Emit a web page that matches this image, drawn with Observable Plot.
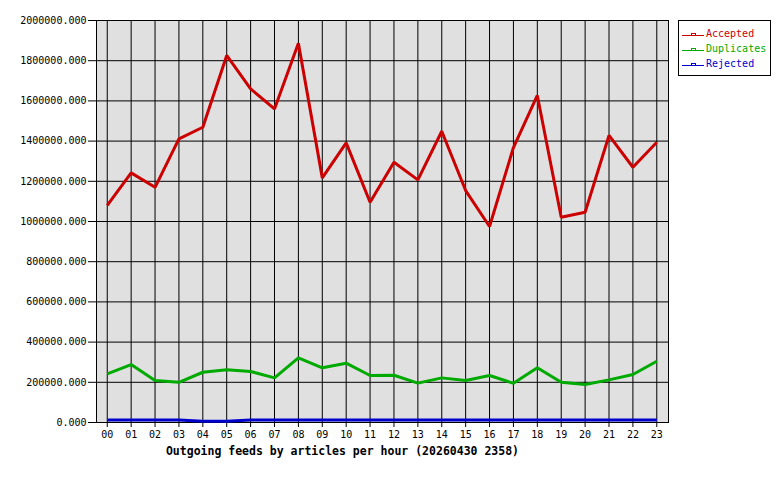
<!DOCTYPE html>
<html>
<head>
<meta charset="utf-8">
<script src="https://cdn.jsdelivr.net/npm/d3@7"></script>
<script src="https://cdn.jsdelivr.net/npm/@observablehq/plot@0.6"></script>
<style>
  html, body { margin: 0; padding: 0; background: #fff; }
  #wrap { position: relative; width: 780px; height: 480px; font-family: "DejaVu Sans Mono", monospace; }
  #chart { position: absolute; left: 0; top: 0; }
  #title { position: absolute; left: 0; width: 685px; top: 444px; text-align: center;
           font: bold 11.5px "DejaVu Sans Mono", monospace; color: #000; white-space: nowrap; }
  #legend { position: absolute; left: 678px; top: 20px; width: 93px; height: 56px; box-sizing: border-box;
            border: 1px solid #000; background: #fff; padding-top: 5px; }
  .item { display: flex; align-items: center; height: 15px; font-size: 10px; }
  .item .sw { margin-left: 3px; margin-right: 2px; width: 22px; height: 8px; position: relative; }
  .item .ln { position: absolute; left: 0; top: 5px; width: 22px; height: 1px; }
  .item .mk { position: absolute; left: 9px; top: 3px; width: 3px; height: 2px; border: 1px solid; border-bottom: none; }
</style>
</head>
<body>
<div id="wrap">
  <div id="chart"></div>
  <div id="title">Outgoing feeds by articles per hour (20260430 2358)</div>
  <div id="legend"></div>
</div>
<script>
const hours = ["00","01","02","03","04","05","06","07","08","09","10","11","12","13","14","15","16","17","18","19","20","21","22","23"];
const seriesNames = ["Accepted", "Duplicates", "Rejected"];
const seriesColors = ["#cc0000", "#00aa00", "#0000cc"];
const accepted = [1080000, 1242000, 1170000, 1411000, 1469000, 1826000, 1660000, 1560000, 1887000, 1217000, 1391000, 1096000, 1295000, 1207000, 1449000, 1154000, 975000, 1368000, 1627000, 1021000, 1046000, 1428000, 1270000, 1394000];
const duplicates = [242000, 288000, 209000, 200000, 250000, 262000, 254000, 222000, 322000, 272000, 295000, 234000, 235000, 196000, 222000, 209000, 234000, 195000, 272000, 200000, 189000, 212000, 239000, 305000];
const rejected = [12000, 12000, 12000, 12000, 6000, 6000, 12000, 12000, 12000, 12000, 12000, 12000, 12000, 12000, 12000, 12000, 12000, 12000, 12000, 12000, 12000, 12000, 12000, 12000];
const yTicks = [0, 200000, 400000, 600000, 800000, 1000000, 1200000, 1400000, 1600000, 1800000, 2000000];

const valueSets = [accepted, duplicates, rejected];
const rows = [];
seriesNames.forEach((s, k) => valueSets[k].forEach((v, i) => rows.push({series: s, hour: i, value: v})));

const chart = Plot.plot({
  width: 780,
  height: 480,
  marginLeft: 96,
  marginRight: 112,
  marginTop: 20,
  marginBottom: 58,
  style: { fontFamily: "DejaVu Sans Mono, monospace", fontSize: "10px", color: "#000", background: "transparent" },
  x: { type: "linear", domain: [-0.45, 23.49], axis: null },
  y: { domain: [0, 2000000], axis: null },
  color: { domain: seriesNames, range: seriesColors },
  marks: [
    Plot.frame({ fill: "#e0e0e0", stroke: null }),
    Plot.gridX(d3.range(hours.length), { stroke: "#000", strokeOpacity: 1, strokeWidth: 1 }),
    Plot.gridY(yTicks, { stroke: "#000", strokeOpacity: 1, strokeWidth: 1 }),
    Plot.frame({ stroke: "#000", strokeWidth: 1 }),
    Plot.axisX(d3.range(hours.length), { label: null, tickSize: 5, tickPadding: 3, tickFormat: i => hours[i], stroke: "#000", fill: "#000", fontSize: 10 }),
    Plot.axisY(yTicks, { label: null, tickSize: 8, tickPadding: 2, tickFormat: d => d.toFixed(3), stroke: "#000", fill: "#000", fontSize: 10 }),
    Plot.line(rows, { x: "hour", y: "value", z: "series", stroke: "series", strokeWidth: 3, strokeLinejoin: "miter", strokeLinecap: "butt" })
  ]
});
document.getElementById("chart").appendChild(chart);

const legend = document.getElementById("legend");
seriesNames.forEach((s, k) => {
  const c = seriesColors[k];
  const item = document.createElement("div");
  item.className = "item";
  item.innerHTML = `<div class="sw"><div class="ln" style="background:${c}"></div><div class="mk" style="border-color:${c}"></div></div><span style="color:${c}">${s}</span>`;
  legend.appendChild(item);
});
</script>
</body>
</html>
